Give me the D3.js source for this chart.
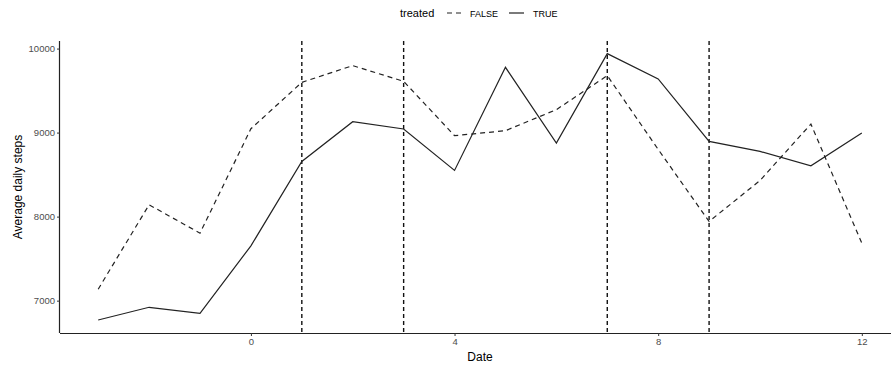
<!DOCTYPE html>
<html>
<head>
<meta charset="utf-8">
<script src="https://cdn.jsdelivr.net/npm/d3@7"></script>
<style>
  body { margin: 0; background: #fff; }
  svg { display: block; font-family: "Liberation Sans", Arial, sans-serif; }
</style>
</head>
<body>
<svg id="chart" width="891" height="367"></svg>
<script>
// data
const dates = [-3, -2, -1, 0, 1, 2, 3, 4, 5, 6, 7, 8, 9, 10, 11, 12];
const stepsFalse = [7136, 8141, 7803, 9046, 9598, 9797, 9610, 8963, 9023, 9273, 9678, 8800, 7942, 8430, 9102, 7684];
const stepsTrue = [6770, 6921, 6850, 7652, 8657, 9130, 9043, 8550, 9777, 8876, 9940, 9639, 8895, 8776, 8605, 8995];
const eventDates = [1, 3, 7, 9];
const xTicks = [0, 4, 8, 12];
const yTicks = [7000, 8000, 9000, 10000];

const series = [
  { key: "FALSE", values: stepsFalse, dash: "5,4" },
  { key: "TRUE", values: stepsTrue, dash: null }
];

(() => {
  const svg = d3.select("#chart");
  const panel = { left: 60, right: 900, top: 41, bottom: 333 };

  const x = d3.scaleLinear().domain([-3.75, 12.75]).range([panel.left, panel.right]);
  const y = d3.scaleLinear().domain([6615, 10090]).range([panel.bottom, panel.top]);

  const tickColor = "#4d4d4d";

  // axes
  const xAxis = svg.append("g")
    .attr("transform", `translate(0,${panel.bottom})`)
    .call(d3.axisBottom(x).tickValues(xTicks).tickSize(3).tickPadding(2).tickFormat(d3.format("d")));
  xAxis.select(".domain").attr("d", `M${panel.left},0.5H${panel.right}`).attr("stroke", "#222").attr("stroke-width", 1.2);
  xAxis.selectAll(".tick line").attr("stroke", "#333");
  xAxis.selectAll(".tick text").attr("fill", tickColor).attr("font-size", 9.5)
    .attr("font-family", "Liberation Sans, Arial, sans-serif");

  const yAxis = svg.append("g")
    .attr("transform", `translate(${panel.left},0)`)
    .call(d3.axisLeft(y).tickValues(yTicks).tickSize(3).tickPadding(2).tickFormat(d3.format("d")));
  yAxis.select(".domain").attr("d", `M-0.5,${panel.top}V${panel.bottom}`).attr("stroke", "#222").attr("stroke-width", 1.2);
  yAxis.selectAll(".tick line").attr("stroke", "#333");
  yAxis.selectAll(".tick text").attr("fill", tickColor).attr("font-size", 9.5)
    .attr("font-family", "Liberation Sans, Arial, sans-serif");

  // axis titles
  svg.append("text")
    .attr("x", 480).attr("y", 361)
    .attr("text-anchor", "middle").attr("font-size", 12).attr("fill", "#000")
    .text("Date");
  svg.append("text")
    .attr("transform", `translate(22,${(panel.top + panel.bottom) / 2}) rotate(-90)`)
    .attr("text-anchor", "middle").attr("font-size", 12).attr("fill", "#000")
    .text("Average daily steps");

  // vertical event lines
  svg.append("g").selectAll("line")
    .data(eventDates)
    .join("line")
    .attr("x1", d => x(d)).attr("x2", d => x(d))
    .attr("y1", panel.top).attr("y2", panel.bottom)
    .attr("stroke", "#111").attr("stroke-width", 1.4)
    .attr("stroke-dasharray", "4,3");

  // series lines
  const line = d3.line()
    .x((d, i) => x(dates[i]))
    .y(d => y(d));

  svg.append("g").selectAll("path")
    .data(series)
    .join("path")
    .attr("d", d => line(d.values))
    .attr("fill", "none")
    .attr("stroke", "#222")
    .attr("stroke-width", 1.2)
    .attr("stroke-dasharray", d => d.dash);

  // legend
  const legend = svg.append("g").attr("font-size", 9);
  legend.append("text")
    .attr("x", 400).attr("y", 17)
    .attr("font-size", 11).attr("fill", "#000")
    .text("treated");
  const keyX = [447, 509];
  const labelX = [470, 533];
  series.forEach((s, i) => {
    legend.append("line")
      .attr("x1", keyX[i]).attr("x2", keyX[i] + 15)
      .attr("y1", 13).attr("y2", 13)
      .attr("stroke", "#222").attr("stroke-width", 1.2)
      .attr("stroke-dasharray", s.dash);
    legend.append("text")
      .attr("x", labelX[i]).attr("y", 16.5)
      .attr("fill", "#000")
      .text(s.key);
  });
})();
</script>
</body>
</html>
